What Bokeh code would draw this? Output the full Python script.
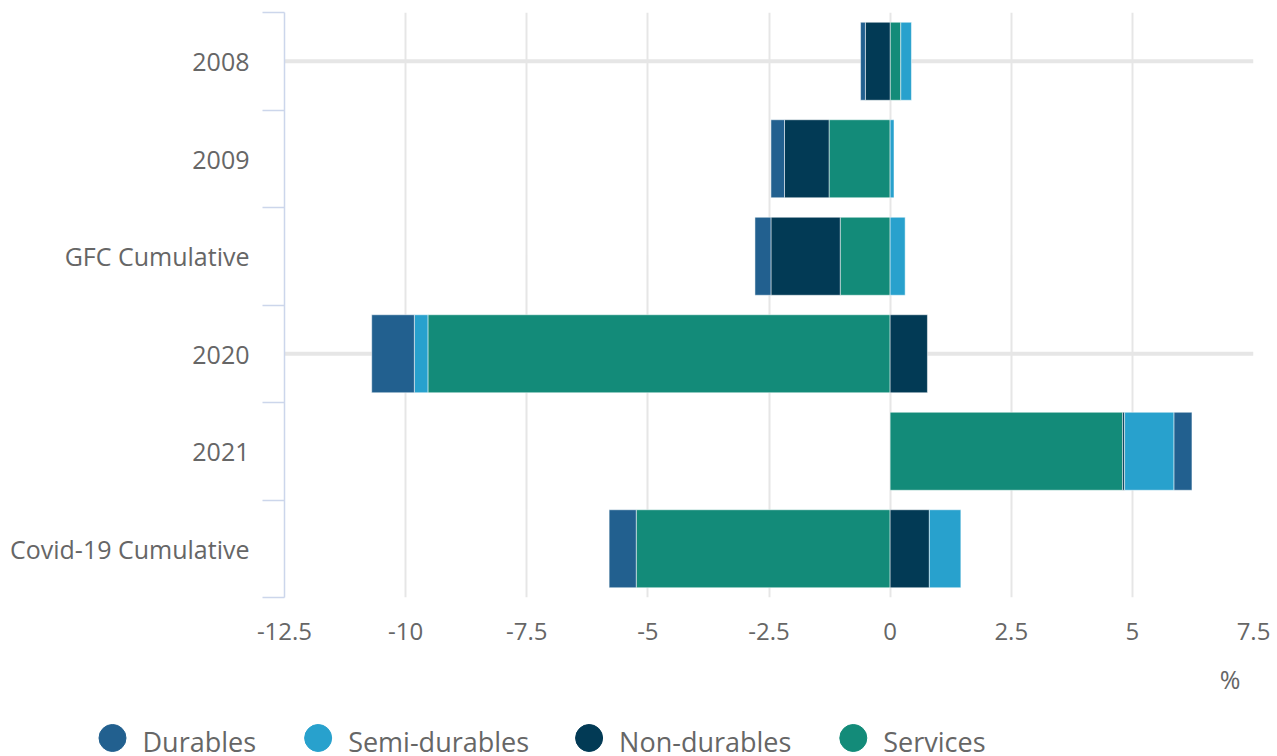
import numpy as np
from bokeh.plotting import figure
from bokeh.models import ColumnDataSource, Range1d, FixedTicker, Span
from bokeh.core.properties import value
from bokeh.layouts import column
from bokeh.embed import file_html
from bokeh.resources import INLINE

# ---------------- data ----------------
categories = ["2008", "2009", "GFC Cumulative", "2020", "2021", "Covid-19 Cumulative"]
series_names = ["Durables", "Semi-durables", "Non-durables", "Services"]
durables = [-0.10, -0.28, -0.33, -0.88, 0.37, -0.56]
semi_durables = [0.22, 0.08, 0.31, -0.28, 1.02, 0.65]
non_durables = [-0.51, -0.92, -1.43, 0.77, 0.04, 0.81]
services = [0.22, -1.26, -1.03, -9.54, 4.80, -5.24]
x_ticks = [-12.5, -10, -7.5, -5, -2.5, 0, 2.5, 5, 7.5]
x_tick_labels = ["-12.5", "-10", "-7.5", "-5", "-2.5", "0", "2.5", "5", "7.5"]
highlighted = ["2008", "2020"]
unit_label = "%"

# ---------------- styles / layout ----------------
colors = ["#22608F", "#28A1CD", "#023A55", "#138B79"]
TEXT = "#666666"
GRID = "#e6e6e6"
AXIS = "#ccd6eb"
FONT = "Open Sans"
W = 1277
MAIN_H = 660
BOTTOM_H = 96
BORDER_L, BORDER_R, BORDER_T = 284, 24, 12
FRAME_BOTTOM = 597

n = len(categories)
ypos = np.arange(n) + 0.5

p = figure(width=W, height=MAIN_H, output_backend="svg", toolbar_location=None,
           x_range=Range1d(x_ticks[0], x_ticks[-1]), y_range=Range1d(n, 0),
           min_border_left=BORDER_L, min_border_right=BORDER_R, min_border_top=BORDER_T,
           min_border_bottom=MAIN_H - FRAME_BOTTOM)
p.frame_align = False
p.outline_line_color = None
p.background_fill_color = "white"

# highlighted horizontal lines
for c in highlighted:
    p.add_layout(Span(location=categories.index(c) + 0.5, dimension="width",
                      line_color=GRID, line_width=4, level="underlay"))

# stacked bars (last series nearest zero)
values = [durables, semi_durables, non_durables, services]
pos = np.zeros(n)
neg = np.zeros(n)
for name, vals, col in reversed(list(zip(series_names, values, colors))):
    v = np.array(vals, dtype=float)
    left = np.where(v >= 0, pos, neg + v)
    right = np.where(v >= 0, pos + v, neg)
    pos = np.where(v >= 0, pos + v, pos)
    neg = np.where(v < 0, neg + v, neg)
    src = ColumnDataSource(dict(y=ypos, left=left, right=right))
    p.hbar(y="y", left="left", right="right", height=0.8, source=src,
           fill_color=col, line_color="white", line_width=1, line_alpha=0.5)

# x axis
xt = FixedTicker(ticks=x_ticks)
p.xaxis.ticker = xt
p.xaxis.major_label_overrides = {float(t): l for t, l in zip(x_ticks, x_tick_labels)}
p.xaxis.axis_line_color = None
p.xaxis.major_tick_line_color = None
p.xaxis.minor_tick_line_color = None
p.xaxis.major_label_standoff = 19
p.xaxis.major_label_text_font = FONT
p.xaxis.major_label_text_font_size = "24px"
p.xaxis.major_label_text_color = TEXT
p.xgrid.ticker = xt
p.xgrid.grid_line_color = GRID
p.xgrid.grid_line_width = 2
p.ygrid.grid_line_color = None

# y axis (labels at centres, ticks at band boundaries)
yt = FixedTicker(ticks=list(ypos), minor_ticks=list(range(n + 1)))
p.yaxis.ticker = yt
p.yaxis.major_label_overrides = {float(y): c for y, c in zip(ypos, categories)}
p.yaxis.axis_line_color = AXIS
p.yaxis.axis_line_width = 1.5
p.yaxis.major_tick_out = 0
p.yaxis.major_tick_in = 0
p.yaxis.major_tick_line_color = None
p.yaxis.minor_tick_out = 22
p.yaxis.minor_tick_in = 0
p.yaxis.minor_tick_line_color = AXIS
p.yaxis.minor_tick_line_width = 1.5
p.yaxis.major_label_standoff = 13
p.yaxis.major_label_text_font = FONT
p.yaxis.major_label_text_font_size = "25px"
p.yaxis.major_label_text_color = TEXT

# ---------------- bottom panel: unit label + legend ----------------
bf = figure(width=W, height=BOTTOM_H, output_backend="svg", toolbar_location=None,
            x_range=Range1d(0, W), y_range=Range1d(BOTTOM_H, 0),
            x_axis_location=None, y_axis_location=None, min_border=0)
bf.frame_align = False
bf.outline_line_color = None
bf.grid.visible = False

bf.text(x=[W - BORDER_R - 13], y=[18.3], text=[unit_label], text_align="right",
        text_baseline="middle", text_font=value(FONT), text_font_size="25px",
        text_color=TEXT)

# approximate Open Sans advance widths (em) to lay out the legend row
ADV = {"D": .729, "u": .613, "r": .408, "a": .556, "b": .613, "l": .253, "e": .56,
       "s": .477, "S": .544, "m": .856, "i": .253, "-": .322, "d": .613, "N": .748,
       "o": .602, "n": .613, "v": .5, "c": .473}
LEG_FS = 27
cx = []
x = 112.0
for name in series_names:
    cx.append(x)
    tw = sum(ADV.get(ch, .55) for ch in name) * LEG_FS
    x = x + 30 + tw + 62
leg_src = ColumnDataSource(dict(x=cx, tx=[c + 30 for c in cx], name=series_names,
                                color=colors))
bf.scatter(x="x", y=77.5, marker="circle", size=27, fill_color="color",
           line_color="color", source=leg_src)
bf.text(x="tx", y=80.5, text="name", text_align="left", text_baseline="middle",
        text_font=value(FONT), text_font_size=f"{LEG_FS}px", text_color=TEXT,
        source=leg_src)

layout = column(p, bf, spacing=0)
open("out.html", "w").write(file_html(layout, INLINE))
